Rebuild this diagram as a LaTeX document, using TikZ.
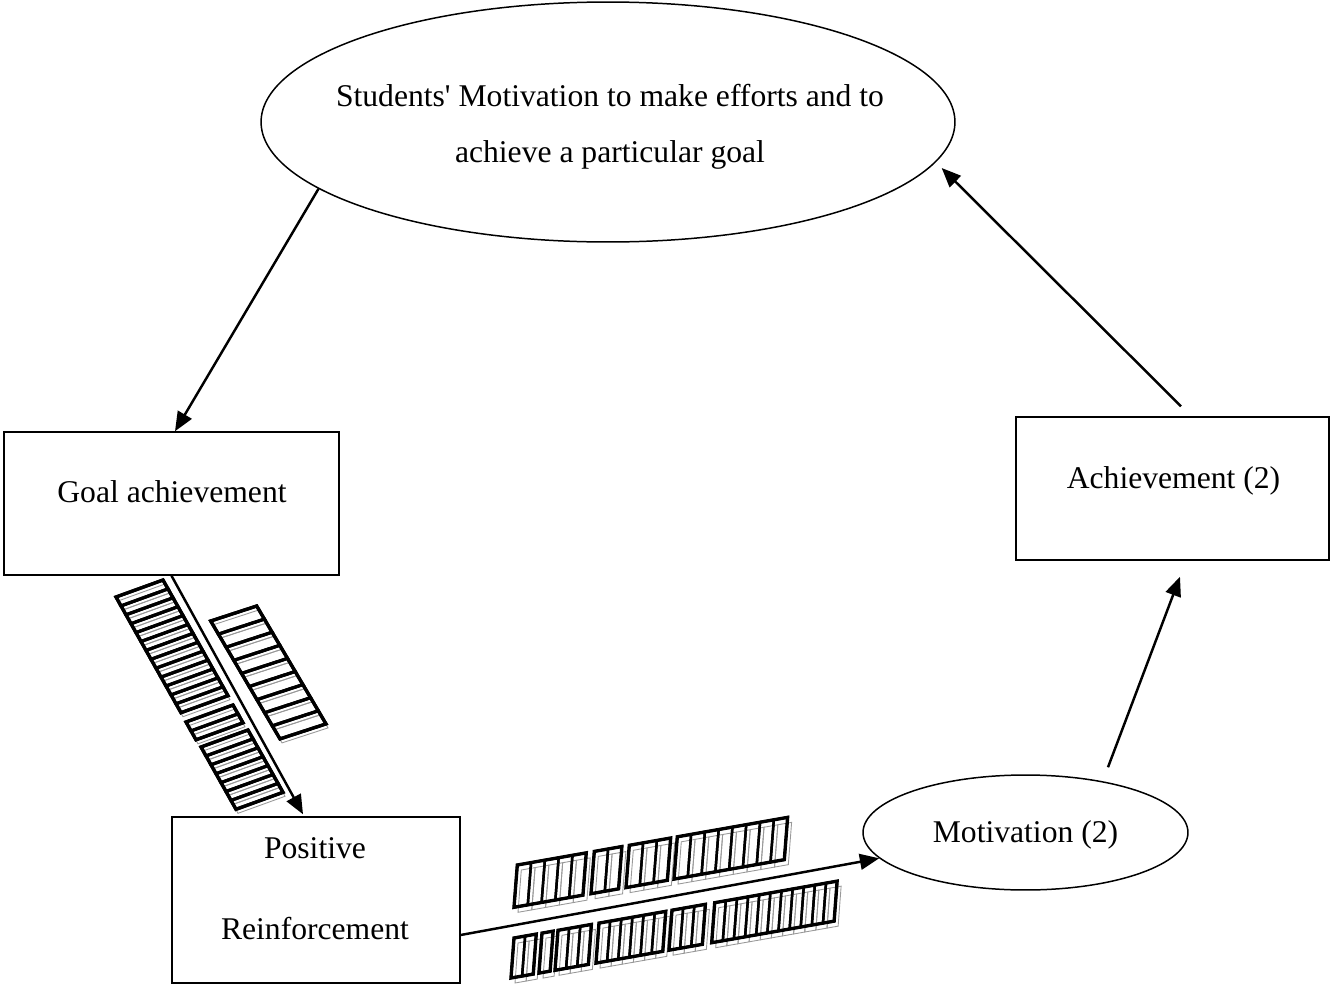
\documentclass[tikz,border=0pt]{standalone}
\usepackage{fontspec}
\setmainfont{Liberation Serif}
\usetikzlibrary{arrows.meta,calc,shapes.geometric}

% garbled word: #1 x, #2 y, #3 glyph step vector, #4 glyph height vector, #5 glyph count, #6 shadow offset, #7 glyph line width
\newcommand\gword[7]{%
  \coordinate (gu) at #3;
  \coordinate (gv) at #4;
  \coordinate (gs) at #6;
  \foreach \gi in {1,...,#5}{%
    \draw[gshadow] ($(#1,#2)+\gi*(gu)-(gu)+(gs)$) -- ++(gu) -- ++(gv) -- ++($(0,0)-(gu)$) -- cycle;
  }
  \foreach \gi in {1,...,#5}{%
    \draw[line width=#7] ($(#1,#2)+\gi*(gu)-(gu)$) -- ++(gu) -- ++(gv) -- ++($(0,0)-(gu)$) -- cycle;
  }
  \draw[gout] (#1,#2) -- ++($#5*(gu)$) -- ++(gv) -- ++($(0,0)-#5*(gu)$) -- cycle;
}

\begin{document}
\begin{tikzpicture}[x=0.02cm,y=-0.02cm,
  shapeline/.style={draw, line width=0.85pt, inner sep=0pt},
  boxnode/.style={shapeline, rectangle},
  ellnode/.style={shapeline, ellipse},
  lbl/.style={anchor=base, inner sep=0pt, font=\fontsize{18}{22}\selectfont},
  arr/.style={line width=1.4pt, -{Triangle[length=11pt,width=9pt]}},
  gshadow/.style={draw=black!40, line width=0.5pt},
  gout/.style={line width=1.9pt, line join=miter},
]
\useasboundingbox (0,0) rectangle (1330,984);

% shapes
\node[ellnode, minimum width=13.88cm, minimum height=4.8cm] (big) at (608,122) {};
\node[boxnode, minimum width=6.7cm, minimum height=2.86cm] (goal) at (171.5,503.5) {};
\node[boxnode, minimum width=6.26cm, minimum height=2.86cm] (ach) at (1172.5,488.5) {};
\node[boxnode, minimum width=5.76cm, minimum height=3.32cm] (pos) at (316,900) {};
\node[ellnode, minimum width=6.5cm, minimum height=2.3cm] (mot) at (1025.5,832.5) {};

% texts
\node[lbl] (bigt1) at (610,106) {Students\textquotesingle{} Motivation to make efforts and to};
\node[lbl] (bigt2) at (610,162) {achieve a particular goal};
\node[lbl] (goalt) at (172,502) {Goal achievement};
\node[lbl] (acht) at (1173.5,488) {Achievement (2)};
\node[lbl] (post1) at (315,858) {Positive};
\node[lbl] (post2) at (315,939) {Reinforcement};
\node[lbl] (mott) at (1025.5,842) {Motivation (2)};

% garbled labels along the arrows
\gword{116}{597}{(5,8.9)}{(47,-17)}{13}{(2,4)}{1.8pt}
\gword{186}{722}{(5,8.9)}{(47,-17)}{2}{(2,4)}{1.8pt}
\gword{201}{747}{(5,8.9)}{(47,-17)}{7}{(2,4)}{1.8pt}
\gword{210.7}{621}{(7.7,13.1)}{(46,-15)}{9}{(2,4)}{1.8pt}

\gword{514}{907.3}{(13.79,-2.43)}{(3.3,-42.3)}{5}{(4,5)}{1.4pt}
\gword{591}{893.7}{(13.79,-2.43)}{(3.3,-42.3)}{2}{(4,5)}{1.4pt}
\gword{626}{887.6}{(13.79,-2.43)}{(3.3,-42.3)}{3}{(4,5)}{1.4pt}
\gword{674}{879.1}{(13.79,-2.43)}{(3.3,-42.3)}{8}{(4,5)}{1.4pt}

\gword{511}{978}{(11.13,-1.96)}{(3,-40)}{2}{(4,5)}{1.4pt}
\gword{539}{973.1}{(11.13,-1.96)}{(3,-40)}{1}{(4,5)}{1.4pt}
\gword{555}{970.3}{(11.13,-1.96)}{(3,-40)}{3}{(4,5)}{1.4pt}
\gword{596}{963.1}{(11.13,-1.96)}{(3,-40)}{6}{(4,5)}{1.4pt}
\gword{669}{950.2}{(11.13,-1.96)}{(3,-40)}{3}{(4,5)}{1.4pt}
\gword{711.7}{942.7}{(11.13,-1.96)}{(3,-40)}{11}{(4,5)}{1.4pt}

% connectors
\draw[arr] (big.193) -- ([xshift=0.07cm]goal.north);
\draw[arr] (goal.south) -- ([xshift=-0.26cm,yshift=0.04cm]pos.north);
\draw[arr] ([yshift=-0.7cm]pos.east) -- (mot.190);
\draw[arr] ([xshift=1.65cm,yshift=0.14cm]mot.north) -- ([xshift=0.15cm,yshift=-0.32cm]ach.south);
\draw[arr] ([xshift=0.17cm,yshift=0.2cm]ach.north) -- ([xshift=-0.28cm,yshift=-0.92cm]big.east);
\end{tikzpicture}
\end{document}
